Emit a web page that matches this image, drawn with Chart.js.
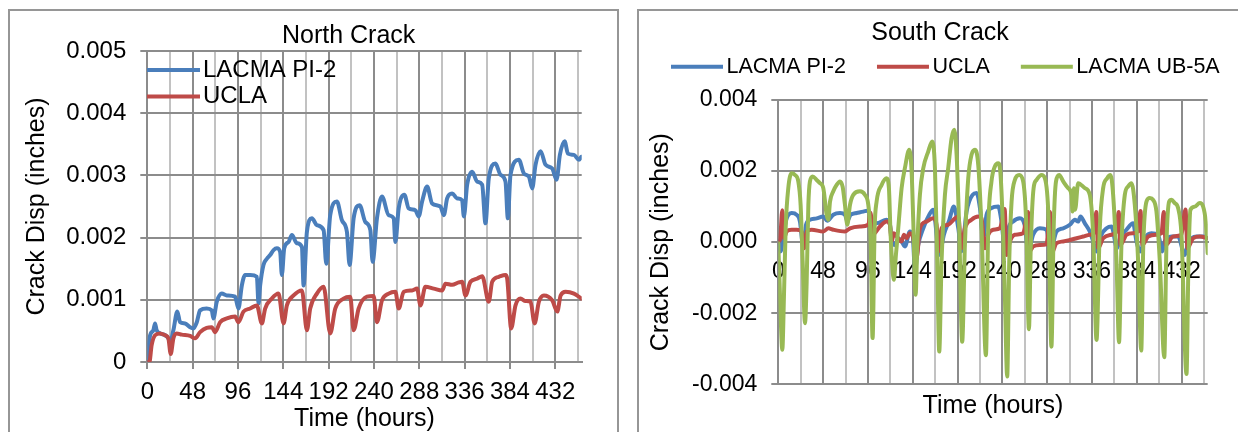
<!DOCTYPE html>
<html>
<head>
<meta charset="utf-8">
<script src="https://cdn.jsdelivr.net/npm/chart.js@4/dist/chart.umd.min.js"></script>
<style>
  html, body { margin: 0; padding: 0; background: #fff; }
  body { width: 1238px; height: 432px; overflow: hidden; position: relative; }
  .panel { position: absolute; top: 9px; border: 2px solid #969696; background: #fff; }
  #northPanel { left: 8px; width: 607px; height: 440px; }
  #southPanel { left: 637px; width: 610px; height: 440px; }
  canvas { display: block; }
</style>
</head>
<body>
<div class="panel" id="northPanel"><canvas id="north" width="607" height="440"></canvas></div>
<div class="panel" id="southPanel"><canvas id="south" width="610" height="440"></canvas></div>
<script>
// ---- axis ticks ----
const hourGrid = [0, 24, 48, 72, 96, 120, 144, 168, 192, 216, 240, 264, 288, 312, 336, 360, 384, 408, 432, 456];
const northYTicks = [0, 0.001, 0.002, 0.003, 0.004, 0.005];
const northYLabels = ['0', '0.001', '0.002', '0.003', '0.004', '0.005'];
const southYTicks = [-0.004, -0.002, 0, 0.002, 0.004];
const southYLabels = ['-0.004', '-0.002', '0.000', '0.002', '0.004'];
const seriesNames = ['LACMA PI-2', 'UCLA', 'LACMA UB-5A'];

// ---- North crack: LACMA PI-2 ----
const northPI2Hours = [0, 3, 6.4, 8.2, 9.9, 13.5, 18.8, 22.3, 24.1, 27.6, 31.8, 34.7, 40, 45.3, 48.8, 52.4, 55.9, 62.9, 68.3, 70,
  73.6, 78.9, 84.2, 93, 96.5, 100.1, 103.6, 108.9, 116, 117.8, 119.5, 123, 126.6, 130.1, 133.7, 137.2, 140.7, 142.5, 145, 149.6,
  153.1, 158.4, 163.7, 165.5, 169, 174.3, 179.6, 186.7, 189.5, 193.7, 200.8, 206.1, 211.4, 214.2, 218.5, 224.8, 230.9, 236.2, 238.6, 243.2,
  248.5, 255.6, 260.9, 262.7, 266.2, 272.2, 276.8, 283.9, 287.4, 291, 296.3, 301.6, 310.4, 314, 317.5, 322.8, 328.1, 333.4, 335.2, 338.7,
  344, 349.3, 354.6, 358.1, 361.6, 368.7, 374, 379.3, 381.8, 384.6, 393.5, 398.8, 404.1, 407.6, 411.1, 416.4, 421.8, 428.8, 433.4, 436.9,
  441.9, 445.4, 451.8, 457.1, 459.6];
const northPI2 = [0, 0.00043, 0.00051, 0.00062, 0.00051, 0.00046, 0.00043, 0.00038, 0.00031, 0.00051, 0.00081, 0.00064, 0.00062, 0.00056, 0.00054, 0.00064, 0.00083, 0.00086, 0.00083, 0.00070,
  0.00097, 0.00110, 0.00107, 0.00105, 0.00086, 0.00123, 0.00140, 0.00140, 0.00137, 0.00094, 0.00123, 0.00156, 0.00166, 0.00172, 0.00180, 0.00183, 0.00177, 0.00140, 0.00183, 0.00193,
  0.00204, 0.00191, 0.00185, 0.00123, 0.00209, 0.00231, 0.00220, 0.00212, 0.00158, 0.00236, 0.00258, 0.00228, 0.00209, 0.00156, 0.00231, 0.00252, 0.00225, 0.00212, 0.00161, 0.00231,
  0.00266, 0.00236, 0.00231, 0.00193, 0.00247, 0.00269, 0.00247, 0.00244, 0.00234, 0.00258, 0.00282, 0.00255, 0.00250, 0.00236, 0.00263, 0.00271, 0.00263, 0.00260, 0.00234, 0.00285,
  0.00306, 0.00290, 0.00285, 0.00223, 0.00295, 0.00319, 0.00301, 0.00290, 0.00231, 0.00301, 0.00325, 0.00303, 0.00298, 0.00279, 0.00317, 0.00339, 0.00317, 0.00311, 0.00293, 0.00333,
  0.00355, 0.00335, 0.00333, 0.00325, 0.00330];

// ---- North crack: UCLA ----
const northUCLAHours = [0, 2.2, 4.6, 8.2, 13.5, 18.8, 22.3, 24.8, 27.6, 31.1, 36.4, 45.3, 50.6, 55.9, 62.9, 68.3, 71.8, 77.1, 84.2, 93,
  96.5, 101.8, 108.9, 116, 121.3, 124.8, 131.9, 138.9, 144.3, 147.8, 154.9, 163.7, 169, 172.5, 179.6, 186.7, 193.7, 199, 207.9, 214.9,
  218.5, 223.8, 232.6, 239.7, 243.2, 248.5, 255.6, 262.7, 266.2, 271.5, 280.4, 285.7, 289.2, 294.5, 303.3, 312.2, 315.7, 322.8, 329.8, 333.4,
  336.9, 342.2, 349.3, 354.6, 361.6, 365.2, 372.3, 379.3, 381.1, 385.3, 389.9, 395.2, 400.5, 405.8, 410.1, 414.7, 420, 428.8, 434.1, 437.7,
  443, 451.8, 459.6];
const northUCLA = [0, 0, 0.00027, 0.00043, 0.00046, 0.00043, 0.00038, 0.00013, 0.00038, 0.00046, 0.00044, 0.00042, 0.00038, 0.00048, 0.00055, 0.00056, 0.00048, 0.00064, 0.00070, 0.00073,
  0.00064, 0.00081, 0.00086, 0.00091, 0.00062, 0.00086, 0.00102, 0.00110, 0.00062, 0.00091, 0.00107, 0.00115, 0.00051, 0.00086, 0.00110, 0.00121, 0.00046, 0.00086, 0.00102, 0.00105,
  0.00051, 0.00086, 0.00105, 0.00106, 0.00064, 0.00099, 0.00110, 0.00113, 0.00086, 0.00113, 0.00115, 0.00118, 0.00091, 0.00121, 0.00118, 0.00115, 0.00126, 0.00124, 0.00128, 0.00129,
  0.00107, 0.00129, 0.00134, 0.00138, 0.00097, 0.00129, 0.00137, 0.00140, 0.00134, 0.00054, 0.00091, 0.00102, 0.00098, 0.00097, 0.00062, 0.00097, 0.00107, 0.00099, 0.00081, 0.00107,
  0.00113, 0.00110, 0.00102];

// ---- South crack: LACMA PI-2 ----
const southPI2Hours = [0, 2.5, 5.4, 9, 14.3, 19.7, 23.2, 25.7, 27.5, 29.7, 33.9, 41.1, 48.2, 52.5, 58.9, 66.1, 71.4, 73.9, 77.5, 83.9,
  91, 97.1, 100, 105.3, 116, 119.6, 121.7, 125, 128.5, 132.1, 135.6, 141, 143.9, 146.4, 149.9, 155.3, 161.7, 166, 169.6, 171.7,
  173.8, 177.4, 182.7, 188.1, 192.8, 196.3, 201.7, 208.1, 212.4, 216, 219.5, 223.1, 228.4, 235.6, 239.1, 243.1, 246.6, 251.6, 258.8, 263.8,
  268, 273, 280.2, 287.3, 291.5, 298, 305.2, 312.3, 317.7, 321.2, 323.7, 328.4, 333.7, 337.3, 340.9, 346.2, 351.6, 356.9, 363, 365.9,
  373, 380.1, 383.7, 387.8, 392.6, 399.7, 406.9, 411.5, 414, 421.2, 428.3, 435.5, 439, 447.9, 455.1, 460];
const southPI2 = [0.00002, -0.00026, 0.00021, 0.00067, 0.00082, 0.00077, 0.00058, 0.00002, -0.00008, 0.00049, 0.00063, 0.00067, 0.00072, 0.00060, 0.00077, 0.00082, 0.00077, 0.00060, 0.00077, 0.00082,
  0.00086, 0.00089, 0.00060, 0.00053, 0.00063, 0.00049, 0.00002, -0.00008, 0.00011, 0.00002, -0.00012, 0.00030, 0.00021, -0.00078, -0.00008, 0.00039, 0.00077, 0.00091, 0.00021, -0.00036,
  -0.00026, 0.00021, 0.00058, 0.00100, 0.00039, -0.00026, 0.00086, 0.00133, 0.00138, 0.00096, 0.00011, 0.00077, 0.00096, 0.00100, 0.00058, -0.00026, 0.00039, 0.00058, 0.00067, 0.00049,
  -0.00026, 0.00021, 0.00039, 0.00035, -0.00026, 0.00030, 0.00039, 0.00049, 0.00063, 0.00058, 0.00072, 0.00053, 0.00030, 0.00002, -0.00026, 0.00021, 0.00039, 0.00044, -0.00017, 0.00011,
  0.00035, 0.00053, 0.00002, -0.00026, 0.00011, 0.00025, 0.00021, -0.00026, 0.00002, 0.00016, 0.00016, -0.00036, -0.00003, 0.00016, 0.00016, 0.00011];

// ---- South crack: UCLA ----
const southUCLAHours = [0, 1.8, 4.3, 6.1, 9, 14.3, 19.7, 25, 27.9, 30.4, 35.7, 48.2, 53.6, 58.9, 71.4, 76.8, 87.5, 96.4, 98.9, 101,
  108.9, 116, 119.6, 121.4, 123.9, 126.8, 132.1, 134.6, 137.4, 141, 144.6, 147.1, 148.9, 151.7, 158.8, 166, 169.6, 171.7, 174.9, 182,
  189.2, 192.8, 196.3, 199.9, 207, 214.2, 217.7, 221.3, 224.9, 230.2, 237.4, 242.5, 244.5, 248.1, 253.4, 262.3, 267.5, 269.2, 273.1, 280.2,
  287.3, 291, 292.9, 298, 305.2, 312.3, 319.5, 326.6, 333.7, 339.1, 340.6, 342.6, 348, 356.9, 362.3, 364.6, 366.6, 373, 380.1, 385.5,
  388, 390.1, 396.2, 405.1, 410.5, 412.9, 415.1, 423, 431.9, 436.2, 438.3, 444.4, 451.5, 460];
const southUCLA = [0.00002, 0.00006, 0.00090, 0.00011, 0.00030, 0.00035, 0.00035, 0.00030, -0.00017, 0.00030, 0.00035, 0.00030, 0.00039, 0.00035, 0.00030, 0.00039, 0.00044, 0.00049, 0.00082, 0.00021,
  0.00044, 0.00058, 0.00049, 0.00002, 0.00025, 0.00016, 0.00002, 0.00021, 0.00011, 0.00025, 0.00011, -0.00050, -0.00036, 0.00039, 0.00058, 0.00067, 0.00049, -0.00026, 0.00039, 0.00049,
  0.00067, 0.00072, -0.00017, 0.00039, 0.00063, 0.00072, 0.00067, -0.00017, 0.00021, 0.00035, 0.00039, 0.00093, -0.00036, 0.00002, 0.00021, 0.00025, 0.00085, -0.00026, -0.00012, -0.00008,
  -0.00006, 0.00085, -0.00031, -0.00003, 0.00002, 0.00006, 0.00011, 0.00016, 0.00021, 0.00030, 0.00085, -0.00017, 0.00011, 0.00021, 0.00030, 0.00085, -0.00008, 0.00021, 0.00025, 0.00030,
  0.00088, -0.00008, 0.00016, 0.00021, 0.00025, 0.00085, -0.00008, 0.00016, 0.00021, 0.00092, -0.00017, 0.00011, 0.00016, 0.00011];

// ---- South crack: LACMA UB-5A ----
const southUB5AHours = [0, 1.8, 4.3, 6.1, 7.9, 10.7, 14.3, 17.9, 21.4, 23.9, 26.1, 28.6, 30.4, 32.2, 33.9, 36.8, 41.1, 44.6, 48.2, 51.8,
  53.6, 55.4, 58.9, 62.5, 66.1, 68.9, 71.4, 73.9, 76.8, 80.3, 87.5, 92.8, 96.4, 98.9, 101, 103.2, 105.3, 110.7, 116, 118.5,
  120.3, 123.9, 126, 128.5, 132.1, 135.6, 140.3, 142.8, 144.6, 147.1, 148.9, 151.7, 155.3, 160.6, 164.9, 167.8, 170.3, 172.4, 174.9, 178.5,
  182, 185.6, 188.5, 191, 193.8, 197, 199.9, 203.5, 207, 210.6, 214.2, 217.7, 222.4, 224.9, 228.4, 232, 235.6, 238.1, 240.9, 242.7,
  245.2, 247.4, 249.9, 253.4, 258.1, 262.3, 265.5, 268.5, 270.5, 273.5, 276.6, 282, 285.5, 289.5, 292.6, 295, 297.5, 300.9, 305.2, 310.5,
  314.1, 315.2, 316.6, 318, 321.2, 328.4, 333.7, 337.3, 340.9, 344.4, 348, 352.3, 355.8, 358.7, 362.3, 365, 367.6, 371.2, 374.8, 378.3,
  381.9, 385.5, 388.8, 391, 394.4, 398, 401.5, 405.1, 408.7, 413.5, 415.8, 418.7, 421.2, 424.7, 428.3, 431.9, 437.3, 439.4, 441.5, 446.1,
  451.5, 455.1, 457.9, 460];
const southUB5A = [-0.00003, -0.00148, -0.00303, -0.00148, 0.00039, 0.00152, 0.00194, 0.00189, 0.00171, 0.00105, -0.00054, -0.00228, -0.00111, 0.00105, 0.00171, 0.00185, 0.00175, 0.00166, 0.00152, 0.00077,
  0.00063, 0.00114, 0.00143, 0.00161, 0.00171, 0.00156, 0.00105, 0.00049, 0.00105, 0.00133, 0.00143, 0.00133, 0.00105, 0.00011, -0.00270, 0.00039, 0.00114, 0.00161, 0.00180, 0.00152,
  0.00021, -0.00106, -0.00036, 0.00039, 0.00152, 0.00208, 0.00260, 0.00199, 0.00058, -0.00148, -0.00008, 0.00133, 0.00208, 0.00255, 0.00283, 0.00208, -0.00054, -0.00308, -0.00054, 0.00133,
  0.00208, 0.00292, 0.00316, 0.00246, 0.00039, -0.00280, -0.00008, 0.00180, 0.00246, 0.00260, 0.00217, 0.00039, -0.00318, 0.00039, 0.00171, 0.00213, 0.00222, 0.00189, 0.00021, -0.00148,
  -0.00378, -0.00054, 0.00114, 0.00175, 0.00189, 0.00171, 0.00058, -0.00245, -0.00008, 0.00152, 0.00175, 0.00189, 0.00180, 0.00067, -0.00294, 0.00039, 0.00171, 0.00189, 0.00171, 0.00152,
  0.00133, 0.00086, 0.00152, 0.00091, 0.00166, 0.00152, 0.00133, 0.00021, -0.00275, 0.00039, 0.00152, 0.00180, 0.00189, 0.00133, -0.00054, -0.00282, -0.00008, 0.00133, 0.00157, 0.00166,
  0.00105, -0.00054, -0.00305, -0.00008, 0.00114, 0.00124, 0.00119, 0.00086, -0.00054, -0.00324, -0.00008, 0.00114, 0.00119, 0.00110, 0.00096, 0.00021, -0.00371, -0.00054, 0.00091, 0.00100,
  0.00110, 0.00100, 0.00058, -0.00031];

const FONT = "'Liberation Sans', Arial, Helvetica, sans-serif";
const GRID_DARK = '#8c8c8c';
const GRID_LIGHT = '#c2c2c2';
const BLUE = '#4a7ebb';
const RED = '#be4b48';
const GREEN = '#98b954';

Chart.defaults.font.family = FONT;
Chart.defaults.color = '#000';

function zip(hours, values) {
  return hours.map((h, i) => ({ x: h, y: values[i] }));
}

function series(label, color, hours, values, order) {
  return {
    label, data: zip(hours, values), borderColor: color, backgroundColor: color,
    borderWidth: 4, pointRadius: 0, cubicInterpolationMode: 'monotone', fill: false, order,
    borderJoinStyle: 'round', borderCapStyle: 'round', xAxisID: 'x', yAxisID: 'y'
  };
}

// Panel caption and legend drawn straight onto the canvas
const panelText = {
  id: 'panelText',
  afterDraw(chart, args, opts) {
    const ctx = chart.ctx;
    ctx.save();
    if (opts.title) {
      const t = opts.title;
      ctx.font = `${t.size}px ${FONT}`;
      ctx.fillStyle = '#000';
      ctx.textAlign = 'center';
      ctx.textBaseline = 'middle';
      ctx.fillText(t.text, t.x, t.y);
    }
    if (opts.legend) {
      const L = opts.legend;
      ctx.font = `${L.size}px ${FONT}`;
      ctx.textAlign = 'left';
      ctx.textBaseline = 'middle';
      let x = L.x, y = L.y;
      chart.data.datasets.forEach(ds => {
        ctx.strokeStyle = ds.borderColor;
        ctx.lineWidth = L.lineWidth;
        ctx.lineCap = 'butt';
        ctx.beginPath();
        ctx.moveTo(x, y);
        ctx.lineTo(x + L.sample, y);
        ctx.stroke();
        ctx.fillStyle = '#000';
        ctx.fillText(ds.label, x + L.sample + L.gap, y);
        if (L.direction === 'row') {
          x += L.sample + L.gap + ctx.measureText(ds.label).width + L.spacing;
        } else {
          y += L.spacing;
        }
      });
    }
    ctx.restore();
  }
};

const isLabelled = v => v % 48 === 0;

function yAxis(ticks, labels, min, max, width, titlePad, fontSize) {
  return {
    type: 'linear', position: 'left', min, max,
    afterBuildTicks: s => { s.ticks = ticks.map(v => ({ value: v })); },
    afterFit: s => { s.width = width; },
    ticks: { callback: (v, i) => labels[i], font: { size: fontSize }, color: '#000', padding: 14 },
    grid: { color: GRID_DARK, lineWidth: 2, tickLength: 7, tickColor: GRID_DARK },
    border: { color: GRID_DARK, width: 2 },
    title: { display: true, text: 'Crack Disp (inches)', font: { size: 25 }, color: '#000', padding: { top: titlePad, bottom: 0 } }
  };
}

// ---- North Crack ----
new Chart(document.getElementById('north'), {
  type: 'line',
  data: {
    datasets: [
      series(seriesNames[0], BLUE, northPI2Hours, northPI2, 2),
      series(seriesNames[1], RED, northUCLAHours, northUCLA, 1)
    ]
  },
  options: {
    responsive: false, animation: false, devicePixelRatio: 1,
    layout: { padding: { top: 40, right: 35.3, left: 0, bottom: 0 } },
    plugins: {
      legend: { display: false }, tooltip: { enabled: false },
      panelText: {
        title: { text: 'North Crack', x: 338.6, y: 25, size: 25 },
        legend: { x: 137, y: 59, sample: 53, gap: 3, size: 24, spacing: 26.5, lineWidth: 4, direction: 'column' }
      }
    },
    scales: {
      x: {
        type: 'linear', position: 'bottom', min: 0, max: 460,
        afterBuildTicks: s => { s.ticks = hourGrid.map(v => ({ value: v })); },
        afterFit: s => { s.height = 89; },
        ticks: { autoSkip: false, maxRotation: 0, callback: v => isLabelled(v) ? String(v) : '', font: { size: 24 }, color: '#000', padding: 9 },
        grid: {
          color: c => (c.tick && isLabelled(c.tick.value)) ? GRID_DARK : GRID_LIGHT,
          tickColor: c => (c.tick && isLabelled(c.tick.value)) ? GRID_DARK : 'rgba(0,0,0,0)',
          lineWidth: 2, tickLength: 7
        },
        border: { color: GRID_DARK, width: 2 },
        title: { display: true, text: 'Time (hours)', font: { size: 25 }, color: '#000', padding: { top: 0, bottom: 16.5 } }
      },
      y: yAxis(northYTicks, northYLabels, 0, 0.005, 137.3, 12.5, 24)
    }
  },
  plugins: [panelText]
});

// ---- South Crack ----
new Chart(document.getElementById('south'), {
  type: 'line',
  data: {
    datasets: [
      series(seriesNames[0], BLUE, southPI2Hours, southPI2, 3),
      series(seriesNames[1], RED, southUCLAHours, southUCLA, 2),
      series(seriesNames[2], GREEN, southUB5AHours, southUB5A, 1)
    ]
  },
  options: {
    responsive: false, animation: false, devicePixelRatio: 1,
    layout: { padding: { top: 89, right: 41.3, left: 0, bottom: 0 } },
    plugins: {
      legend: { display: false }, tooltip: { enabled: false },
      panelText: {
        title: { text: 'South Crack', x: 301, y: 22.3, size: 25 },
        legend: { x: 32, y: 55.7, sample: 52, gap: 3.5, size: 21.5, spacing: 31, lineWidth: 4, direction: 'row' }
      }
    },
    scales: {
      x: {
        type: 'linear', axis: 'x', position: { y: 0 }, min: 0, max: 460,
        afterBuildTicks: s => { s.ticks = hourGrid.map(v => ({ value: v })); },
        ticks: { autoSkip: false, maxRotation: 0, callback: v => isLabelled(v) ? String(v) : '', font: { size: 23 }, color: '#000', padding: 16 },
        grid: {
          color: c => (c.tick && isLabelled(c.tick.value)) ? GRID_DARK : GRID_LIGHT,
          lineWidth: 2, drawTicks: false
        },
        border: { color: GRID_DARK, width: 2 }
      },
      x2: {
        type: 'linear', axis: 'x', position: 'bottom', min: 0, max: 460,
        afterFit: s => { s.height = 66.7; },
        ticks: { display: false },
        grid: { display: false },
        border: { display: false },
        title: { display: true, text: 'Time (hours)', font: { size: 25 }, color: '#000', padding: { top: 0, bottom: 30 } }
      },
      y: yAxis(southYTicks, southYLabels, -0.004, 0.004, 139.3, 7, 23)
    }
  },
  plugins: [panelText]
});
</script>
</body>
</html>
